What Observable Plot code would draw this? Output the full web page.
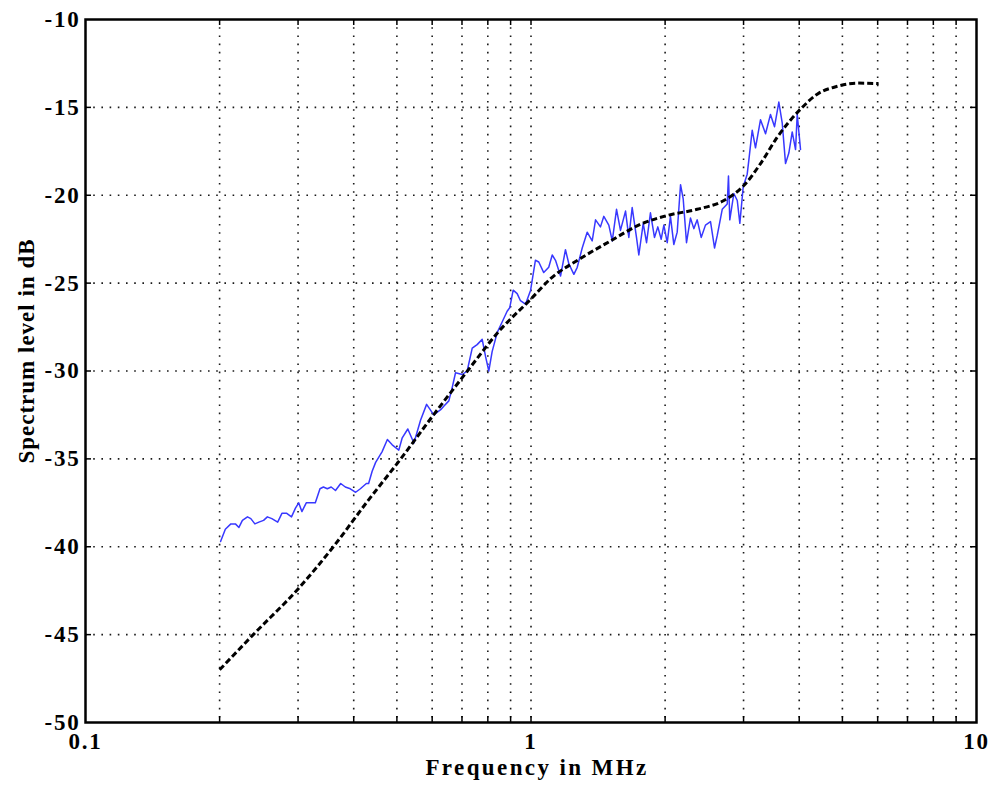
<!DOCTYPE html>
<html><head><meta charset="utf-8">
<script src="https://cdn.jsdelivr.net/npm/d3@7"></script>
<script src="https://cdn.jsdelivr.net/npm/@observablehq/plot@0.6"></script>
<style>
body{margin:0;background:#fff;}
#chart svg text{letter-spacing:1.8px;}
#chart svg g.xtitle text{letter-spacing:2.4px;}
#chart svg g.ytitle text{letter-spacing:1.0px;}
</style></head><body><div id="chart"></div>
<script>
// Measured spectrum (blue)
const measFreq = [0.201,0.206,0.212,0.217,0.221,0.225,0.231,0.235,0.240,0.245,0.251,0.256,0.262,0.270,0.276,0.283,0.290,0.296,0.301,0.306,0.313,0.320,0.328,0.336,0.342,0.349,0.356,0.364,0.374,0.383,0.393,0.404,0.414,0.427,0.432,0.440,0.448,0.463,0.476,0.488,0.505,0.514,0.529,0.546,0.565,0.583,0.605,0.627,0.637,0.654,0.666,0.677,0.701,0.719,0.738,0.757,0.777,0.791,0.804,0.818,0.840,0.862,0.884,0.896,0.912,0.931,0.947,0.972,0.998,1.023,1.041,1.068,1.096,1.116,1.135,1.165,1.195,1.216,1.248,1.270,1.303,1.337,1.372,1.396,1.432,1.457,1.495,1.522,1.556,1.588,1.630,1.658,1.687,1.725,1.746,1.786,1.817,1.854,1.893,1.926,1.960,1.987,2.022,2.056,2.092,2.129,2.166,2.196,2.234,2.280,2.320,2.361,2.410,2.464,2.529,2.582,2.618,2.687,2.757,2.775,2.794,2.853,2.904,2.943,2.995,3.057,3.083,3.137,3.191,3.275,3.361,3.448,3.521,3.600,3.664,3.727,3.791,3.858,3.925,3.959,4.027];
const measLevel = [-39.7,-39.0,-38.7,-38.7,-38.9,-38.5,-38.3,-38.4,-38.7,-38.6,-38.5,-38.3,-38.4,-38.6,-38.1,-38.1,-38.3,-37.8,-37.5,-38.0,-37.5,-37.5,-37.5,-36.7,-36.6,-36.7,-36.6,-36.8,-36.4,-36.6,-36.7,-36.9,-36.7,-36.4,-36.4,-35.7,-35.2,-34.6,-33.9,-34.2,-34.5,-33.8,-33.3,-34.1,-32.8,-31.9,-32.5,-32.2,-32.0,-31.7,-30.9,-30.1,-30.2,-30.0,-28.7,-28.5,-28.2,-29.2,-30.0,-28.9,-27.8,-27.2,-26.6,-26.4,-25.4,-25.6,-26.0,-26.2,-25.4,-23.7,-23.8,-24.4,-24.1,-23.4,-23.7,-24.6,-23.1,-23.9,-24.5,-24.1,-23.0,-22.1,-22.6,-21.4,-21.8,-21.2,-21.7,-22.6,-20.8,-22.0,-20.9,-22.4,-20.7,-22.4,-23.4,-21.6,-22.7,-21.0,-22.4,-21.8,-22.5,-21.7,-22.7,-21.2,-22.8,-22.1,-19.4,-20.2,-22.7,-21.3,-21.9,-21.4,-22.4,-21.7,-21.5,-23.0,-22.3,-20.8,-20.5,-18.9,-21.4,-19.9,-20.3,-21.6,-19.5,-18.8,-18.0,-16.3,-17.3,-15.7,-16.5,-15.4,-16.1,-14.7,-15.9,-18.2,-17.6,-16.4,-17.4,-15.4,-17.4];

// Model curve (black dashed)
const modelFreq = [0.2,0.238,0.3,0.36,0.43,0.51,0.6,0.72,0.85,1.0,1.106,1.291,1.508,1.762,2.022,2.36,2.709,3.004,3.275,3.57,4.027,4.39,4.87,5.40,6.03];
const modelLevel = [-47.0,-45.0,-42.4,-40.0,-37.4,-35.0,-32.6,-30.0,-27.7,-25.9,-24.75,-23.6,-22.6,-21.65,-21.15,-20.8,-20.3,-19.45,-18.2,-16.7,-15.1,-14.25,-13.8,-13.62,-13.65];

const xTicks = [0.1, 1, 10];
const xGrid = [0.2,0.3,0.4,0.5,0.6,0.7,0.8,0.9,1,2,3,4,5,6,7,8,9];
const yTicks = [-50,-45,-40,-35,-30,-25,-20,-15,-10];
const yGrid = [-45,-40,-35,-30,-25,-20,-15];
const xLabel = "Frequency in MHz";
const yLabel = "Spectrum level in dB";

const W = 993, H = 786, mL = 85, mR = 17, mT = 19, mB = 64;
const innerH = H - mT - mB, innerW = W - mL - mR;
const meas = measFreq.map((f, i) => ({f, db: measLevel[i]}));
const model = modelFreq.map((f, i) => ({f, db: modelLevel[i]}));
const font = "'Liberation Serif', 'Times New Roman', serif";
const gridStyle = {stroke: "#1a1a1a", strokeWidth: 1.6, strokeDasharray: "1.6,6.6", strokeLinecap: "butt"};

const chart = Plot.plot({
  width: W, height: H,
  marginLeft: mL, marginRight: mR, marginTop: mT, marginBottom: mB,
  style: {fontFamily: font, fontWeight: "bold", fontSize: "23px", color: "black", background: "white"},
  x: {type: "log", domain: [0.1, 10]},
  y: {domain: [-50, -10]},
  marks: [
    Plot.ruleX(xGrid, gridStyle),
    Plot.ruleY(yGrid, gridStyle),
    Plot.ruleX(xGrid, {insetTop: innerH - 6, stroke: "black", strokeWidth: 1.5}),
    Plot.ruleX(xGrid, {insetBottom: innerH - 6, stroke: "black", strokeWidth: 1.5}),
    Plot.ruleY(yGrid, {insetRight: innerW - 6, stroke: "black", strokeWidth: 1.5}),
    Plot.ruleY(yGrid, {insetLeft: innerW - 6, stroke: "black", strokeWidth: 1.5}),
    Plot.line(meas, {x: "f", y: "db", stroke: "#3838ff", strokeWidth: 1.5}),
    Plot.line(model, {x: "f", y: "db", stroke: "black", strokeWidth: 3, strokeDasharray: "6,3", strokeLinecap: "butt", curve: "monotone-x"}),
    Plot.frame({stroke: "black", strokeWidth: 2.5}),
    Plot.axisX(xTicks, {tickSize: 0, tickPadding: 10, tickFormat: d => String(d), label: null, fontSize: 23, fontWeight: "bold", fontFamily: font}),
    Plot.axisY(yTicks, {tickSize: 0, tickPadding: 5, tickFormat: d => String(d), label: null, fontSize: 23, fontWeight: "bold", fontFamily: font}),
    Plot.text([xLabel], {text: d => d, frameAnchor: "bottom", textAnchor: "middle", dy: 52, dx: 6, fontSize: 23, fontWeight: "bold", fontFamily: font, className: "xtitle"}),
    Plot.text([yLabel], {text: d => d, frameAnchor: "left", textAnchor: "middle", rotate: -90, dx: -59, dy: -20, fontSize: 23, fontWeight: "bold", fontFamily: font, className: "ytitle"})
  ]
});
document.getElementById("chart").append(chart);
// tag title groups for letter-spacing (fallback if className unsupported)
const textGroups = chart.querySelectorAll('g[aria-label="text"]');
if (textGroups.length === 2) { textGroups[0].classList.add("xtitle"); textGroups[1].classList.add("ytitle"); }
</script></body></html>
